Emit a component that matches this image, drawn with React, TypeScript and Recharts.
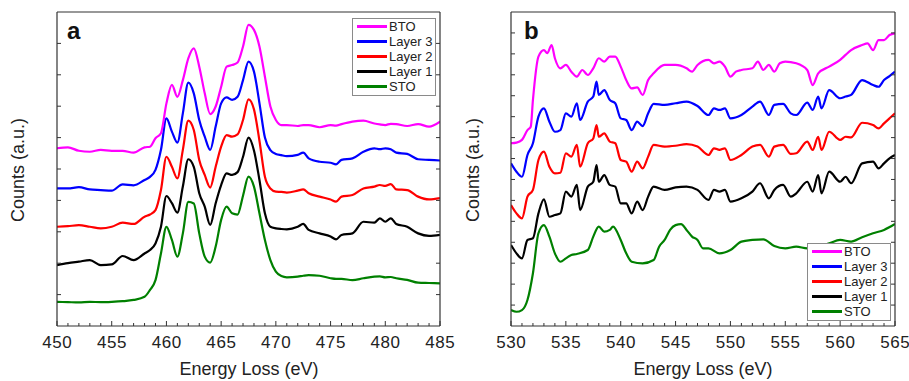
import { Line, LineChart, XAxis, YAxis } from "recharts";

const FONT = '"Liberation Sans", Arial, Helvetica, sans-serif';
const FRAME = "#333333";
const TEXT = "#222222";

const NAMES = ["BTO", "Layer 3", "Layer 2", "Layer 1", "STO"];
const COLORS = ["#ff00ff", "#0000ff", "#ff0000", "#000000", "#008000"];

// ---- panel a: Ti L2,3 edge ----
const A_ENERGY = [
  450, 451, 452, 453, 454, 455, 456, 457, 458,
  458.5, 459, 459.5, 460, 460.5, 461, 461.5, 462, 462.5, 463, 463.5, 464, 464.5, 465, 465.5, 466, 466.5, 467, 467.5, 468, 468.5, 469, 469.5, 470, 470.5, 471,
  472, 472.5, 473, 474, 475, 475.5, 476, 477, 478, 479, 479.5, 480, 480.5, 481, 482, 483, 484, 485,
];
const A_BTO = [
  5.66, 5.69, 5.58, 5.55, 5.61, 5.58, 5.58, 5.52, 5.69,
  5.71, 5.98, 6.14, 7.09, 7.68, 7.3, 7.83, 8.52, 8.84, 8.26, 7.41, 6.75, 6.99, 7.62, 8.26, 8.31, 8.39, 8.9, 9.59, 9.43, 8.9, 7.94, 6.99, 6.56, 6.4, 6.4,
  6.37, 6.4, 6.4, 6.33, 6.4, 6.38, 6.43, 6.51, 6.54, 6.45, 6.42, 6.4, 6.44, 6.43, 6.37, 6.43, 6.35, 6.51,
];
const A_LAYER3 = [
  4.38, 4.38, 4.42, 4.35, 4.33, 4.31, 4.51, 4.48, 4.65,
  4.75, 4.97, 5.61, 6.61, 6.19, 5.84, 6.77, 7.75, 7.41, 6.56, 6.03, 5.61, 6.35, 7.09, 7.28, 7.2, 7.3, 7.83, 8.42, 8.1, 7.1, 6.0, 5.6, 5.48, 5.44, 5.41,
  5.45, 5.52, 5.34, 5.23, 5.2, 5.15, 5.29, 5.34, 5.55, 5.66, 5.63, 5.66, 5.63, 5.52, 5.48, 5.31, 5.29, 5.27,
];
const A_LAYER2 = [
  3.16, 3.18, 3.21, 3.16, 3.11, 3.16, 3.29, 3.25, 3.48,
  3.55, 3.69, 4.33, 5.39, 5.07, 4.7, 5.61, 6.54, 6.24, 5.29, 4.81, 4.41, 5.07, 5.71, 6.08, 6.03, 6.1, 6.56, 7.22, 6.9, 5.9, 4.75, 4.38, 4.28, 4.27, 4.25,
  4.31, 4.35, 4.23, 4.12, 4.03, 3.96, 4.12, 4.17, 4.38, 4.44, 4.49, 4.46, 4.52, 4.35, 4.33, 4.12, 4.03, 4.07,
];
const A_LAYER1 = [
  1.94, 2.0, 2.05, 2.1, 1.94, 1.96, 2.23, 2.1, 2.31,
  2.42, 2.63, 3.16, 4.14, 3.91, 3.61, 4.44, 5.31, 5.07, 4.23, 3.8, 3.22, 3.91, 4.49, 4.86, 4.81, 4.9, 5.39, 6.0, 5.59, 4.65, 3.59, 3.16, 3.11, 3.09, 3.08,
  3.16, 3.25, 3.06, 2.95, 2.85, 2.76, 2.9, 2.95, 3.32, 3.29, 3.43, 3.32, 3.43, 3.25, 3.16, 2.95, 2.87, 2.9,
];
const A_STO = [
  0.77, 0.76, 0.75, 0.77, 0.76, 0.77, 0.79, 0.83, 0.93,
  1.15, 1.46, 2.31, 3.16, 2.74, 2.21, 2.95, 3.95, 3.9, 2.95, 2.21, 2.02, 2.53, 3.38, 3.8, 3.59, 3.55, 4.15, 4.76, 4.44, 3.59, 2.74, 2.1, 1.73, 1.59, 1.55,
  1.57, 1.6, 1.62, 1.6, 1.52, 1.5, 1.5, 1.46, 1.52, 1.57, 1.58, 1.55, 1.56, 1.52, 1.47, 1.38, 1.37, 1.36,
];

// ---- panel b: O K edge ----
const B_ENERGY = [
  530, 530.5, 531, 531.5, 532, 532.5, 533, 533.5, 534, 534.5, 535, 535.5, 536,
  536.3, 537, 537.5, 537.8, 538, 538.5, 539, 539.5, 540, 540.5, 541, 541.5, 542, 542.5, 543,
  544, 545, 546, 547, 548, 548.5, 549, 549.5, 550, 551, 552, 552.7, 553.5, 554, 554.8, 555.5, 556, 557, 557.5, 558, 558.3, 559, 560, 560.5, 561, 562, 563, 563.5, 564, 564.5, 565,
];
const B_LAYER3 = [
  7.77, 7.37, 7.13, 8.17, 8.73, 10.0, 10.4, 9.76, 9.28, 9.36, 10.16, 10.0, 10.64,
  9.84, 10.72, 10.96, 11.67, 11.04, 11.27, 10.8, 10.64, 9.92, 9.84, 9.36, 9.76, 9.55, 10.16, 10.61,
  10.56, 10.64, 10.72, 10.51, 10.08, 10.4, 10.32, 10.4, 9.92, 10.08, 10.48, 10.72, 10.08, 10.56, 10.61, 10.16, 10.08, 10.67, 10.32, 10.96, 10.4, 11.27, 10.88, 10.96, 11.04, 11.75, 11.51, 11.43, 11.75, 11.94, 12.15,
];
const B_LAYER2 = [
  5.78, 5.38, 5.14, 6.18, 6.5, 7.93, 8.33, 7.61, 7.29, 7.32, 8.25, 8.09, 8.65,
  7.61, 8.73, 8.96, 9.6, 9.04, 9.2, 8.81, 8.73, 7.93, 7.85, 7.37, 7.85, 7.53, 8.09, 8.65,
  8.57, 8.61, 8.69, 8.57, 8.17, 8.49, 8.41, 8.49, 7.93, 8.17, 8.57, 8.65, 8.09, 8.57, 8.65, 8.22, 8.25, 8.81, 8.41, 9.04, 8.41, 9.28, 8.89, 9.04, 9.01, 9.71, 9.6, 9.44, 9.68, 9.92, 10.16,
];
const B_LAYER1 = [
  3.87, 3.47, 3.23, 4.11, 4.19, 5.38, 6.05, 5.22, 5.3, 5.38, 6.42, 6.18, 6.74,
  5.54, 6.66, 6.89, 7.69, 6.89, 7.21, 6.74, 6.66, 5.86, 5.86, 5.38, 5.94, 5.54, 6.18, 6.66,
  6.5, 6.62, 6.66, 6.5, 6.02, 6.5, 6.42, 6.5, 5.94, 6.1, 6.42, 6.82, 6.1, 6.5, 6.74, 6.18, 6.34, 6.89, 6.42, 7.21, 6.34, 7.37, 6.89, 7.13, 6.82, 7.77, 7.85, 7.53, 7.77, 8.01, 8.17,
];
const B_BTO_ENERGY = [
  530, 530.5, 531, 531.5, 531.8, 532, 532.5, 533, 533.3, 533.7, 534, 534.5, 535, 535.5, 536, 536.5, 537, 537.5, 538, 538.5,
  539, 539.5, 540, 540.5, 541, 541.5, 542, 542.5, 543, 544, 545, 546, 546.5, 547, 548, 548.5, 549, 549.5, 550, 550.5,
  551, 552, 552.5, 553, 553.5, 554, 554.5, 555, 556, 557, 557.5, 558, 559, 560, 560.5, 561, 562, 562.5, 563, 563.5, 564, 564.5, 565,
];
const B_BTO = [
  8.73, 8.76, 8.89, 9.36, 9.52, 10.8, 12.87, 13.18, 13.03, 13.42, 12.79, 12.31, 12.47, 12.15, 11.91, 12.23, 11.99, 12.31, 12.79, 12.63,
  12.87, 12.87, 12.39, 11.75, 11.35, 11.4, 11.04, 11.75, 12.07, 12.47, 12.47, 12.31, 12.15, 12.47, 12.71, 12.55, 12.63, 12.39, 11.91, 12.15,
  12.23, 12.31, 12.63, 12.23, 12.47, 12.15, 12.55, 12.63, 12.55, 12.23, 11.51, 12.07, 12.39, 12.71, 12.95, 13.18, 13.42, 13.5, 13.18, 13.66, 13.66, 13.9, 13.98,
];
const B_STO_ENERGY = [
  530, 530.5, 531, 531.5, 532, 532.5, 533, 533.5, 534, 534.5, 535, 535.5, 536,
  537, 537.5, 538, 538.5, 539, 539.3, 540, 540.5, 541, 542, 543, 543.5, 544, 544.5, 545, 545.5, 546, 546.5, 547, 547.5,
  548, 549, 550, 551, 552, 553, 554, 555, 556, 557, 558, 559, 560, 561, 562, 563, 564, 565,
];
const B_STO = [
  0.76, 0.68, 0.76, 1.24, 2.52, 4.43, 4.82, 4.27, 3.47, 3.07, 3.23, 3.39, 3.44,
  3.63, 4.27, 4.75, 4.51, 4.59, 4.75, 4.11, 3.47, 3.07, 2.99, 3.15, 3.79, 4.11, 4.59, 4.82, 4.87, 4.59, 4.27, 4.11, 3.71,
  3.71, 3.47, 3.63, 4.03, 4.11, 4.14, 3.82, 3.71, 3.79, 3.71, 3.79, 3.95, 4.11, 4.03, 4.24, 4.43, 4.59, 4.87,
];

const A_X_LABELS = [450, 455, 460, 465, 470, 475, 480, 485];
const B_X_LABELS = [530, 535, 540, 545, 550, 555, 560, 565];
const A_Y_TICKS = [1, 2, 3, 4, 5, 6, 7, 8, 9];
const B_Y_TICKS = [1, 2, 3, 4, 5, 6, 7, 8, 9, 10, 11, 12, 13, 14];

const zip = (e: number[], v: number[]) => e.map((x, i) => ({ e: x, v: v[i] }));
const everyEv = (from: number, to: number) =>
  Array.from({ length: to - from + 1 }, (_, i) => from + i);

// tickSize 6 + tickMargin 2 -> tick props sit 8px off the axis line
const OFF = 8;
const MAJOR_LEN = 5;
const MINOR_LEN = 3;

function bottomTick(labels: number[]) {
  return (p: any) => {
    const ax = p.y - OFF;
    const major = labels.includes(p.payload.value);
    return (
      <g>
        <line x1={p.x} x2={p.x} y1={ax} y2={ax - (major ? MAJOR_LEN : MINOR_LEN)} stroke={FRAME} />
        {major ? (
          <text
            x={p.x + 0.3}
            y={ax + 22}
            textAnchor="middle"
            fontSize={17}
            fill={TEXT}
            style={{ fontFamily: FONT, letterSpacing: 0.6 }}
          >
            {p.payload.value}
          </text>
        ) : null}
      </g>
    );
  };
}

function topTick(labels: number[]) {
  return (p: any) => {
    const ax = p.y + OFF;
    const major = labels.includes(p.payload.value);
    return <line x1={p.x} x2={p.x} y1={ax} y2={ax + (major ? MAJOR_LEN : MINOR_LEN)} stroke={FRAME} />;
  };
}

const leftTick = (p: any) => {
  const ax = p.x + OFF;
  return <line x1={ax} x2={ax + 4} y1={p.y} y2={p.y} stroke={FRAME} />;
};

const rightTick = (p: any) => {
  const ax = p.x - OFF;
  return <line x1={ax} x2={ax - 4} y1={p.y} y2={p.y} stroke={FRAME} />;
};

interface PanelProps {
  left: number;
  width: number;
  marginLeft: number;
  marginRight: number;
  xDomain: [number, number];
  xLabels: number[];
  yMax: number;
  yTicks: number[];
  series: { e: number; v: number }[][];
}

function Panel({ left, width, marginLeft, marginRight, xDomain, xLabels, yMax, yTicks, series }: PanelProps) {
  const minor = everyEv(xDomain[0], xDomain[1]);
  const axisLine = { stroke: FRAME, strokeWidth: 1.2 };
  return (
    <div style={{ position: "absolute", left, top: 0 }}>
      <LineChart width={width} height={381} margin={{ top: 6, right: marginRight, bottom: 25, left: marginLeft }}>
        <XAxis
          dataKey="e"
          type="number"
          domain={xDomain}
          allowDataOverflow
          ticks={minor}
          interval={0}
          tickSize={6}
          tickMargin={2}
          tickLine={false}
          axisLine={axisLine}
          height={30}
          tick={bottomTick(xLabels)}
        />
        <XAxis
          xAxisId="top"
          orientation="top"
          type="number"
          domain={xDomain}
          allowDataOverflow
          ticks={minor}
          interval={0}
          tickSize={6}
          tickMargin={2}
          tickLine={false}
          axisLine={axisLine}
          height={6}
          tick={topTick(xLabels)}
        />
        <YAxis
          type="number"
          domain={[0, yMax]}
          allowDataOverflow
          ticks={yTicks}
          interval={0}
          tickSize={6}
          tickMargin={2}
          tickLine={false}
          axisLine={axisLine}
          width={6}
          tick={leftTick}
        />
        <YAxis
          yAxisId="right"
          orientation="right"
          type="number"
          domain={[0, yMax]}
          allowDataOverflow
          ticks={yTicks}
          interval={0}
          tickSize={6}
          tickMargin={2}
          tickLine={false}
          axisLine={axisLine}
          width={6}
          tick={rightTick}
        />
        {series
          .map((data, i) => ({ data, i }))
          .reverse()
          .map(({ data, i }) => (
            <Line
              key={NAMES[i]}
              data={data}
              dataKey="v"
              type="monotone"
              stroke={COLORS[i]}
              strokeWidth={2.2}
              dot={false}
              isAnimationActive={false}
            />
          ))}
      </LineChart>
    </div>
  );
}

function LegendBox({ left, top }: { left: number; top: number }) {
  return (
    <div
      style={{
        position: "absolute",
        left,
        top,
        width: 78,
        padding: "0 0 1px 4px",
        border: "1px solid #8a8a8a",
        background: "#fff",
        fontFamily: FONT,
        fontSize: 13,
        color: TEXT,
      }}
    >
      {NAMES.map((name, i) => (
        <div key={name} style={{ display: "flex", alignItems: "center", height: 15 }}>
          <span style={{ display: "inline-block", width: 30, height: 3, background: COLORS[i], marginRight: 2 }} />
          <span style={{ lineHeight: "15px" }}>{name}</span>
        </div>
      ))}
    </div>
  );
}

const titleStyle = {
  position: "absolute" as const,
  fontFamily: FONT,
  fontSize: 18,
  color: TEXT,
  whiteSpace: "nowrap" as const,
  lineHeight: "20px",
};

export default function App() {
  const aSeries = [A_BTO, A_LAYER3, A_LAYER2, A_LAYER1, A_STO].map((v) => zip(A_ENERGY, v));
  const bSeries = [
    zip(B_BTO_ENERGY, B_BTO),
    zip(B_ENERGY, B_LAYER3),
    zip(B_ENERGY, B_LAYER2),
    zip(B_ENERGY, B_LAYER1),
    zip(B_STO_ENERGY, B_STO),
  ];

  return (
    <div style={{ position: "absolute", left: 0, top: 0, width: 909, height: 381, background: "#fff", overflow: "hidden" }}>
      <Panel
        left={0}
        width={460}
        marginLeft={51}
        marginRight={14}
        xDomain={[450, 485]}
        xLabels={A_X_LABELS}
        yMax={10}
        yTicks={A_Y_TICKS}
        series={aSeries}
      />
      <Panel
        left={460}
        width={449}
        marginLeft={45}
        marginRight={8}
        xDomain={[530, 565]}
        xLabels={B_X_LABELS}
        yMax={15}
        yTicks={B_Y_TICKS}
        series={bSeries}
      />

      <div style={{ ...titleStyle, left: 18, top: 170, transform: "translate(-50%, -50%) rotate(-90deg)" }}>Counts (a.u.)</div>
      <div style={{ ...titleStyle, left: 473, top: 170, transform: "translate(-50%, -50%) rotate(-90deg)" }}>Counts (a.u.)</div>
      <div style={{ ...titleStyle, left: 249, top: 369, transform: "translate(-50%, -50%)" }}>Energy Loss (eV)</div>
      <div style={{ ...titleStyle, left: 703, top: 369, transform: "translate(-50%, -50%)" }}>Energy Loss (eV)</div>

      <div style={{ position: "absolute", left: 67, top: 19, fontFamily: FONT, fontWeight: 700, fontSize: 24, lineHeight: "24px", color: "#111" }}>a</div>
      <div style={{ position: "absolute", left: 524, top: 19, fontFamily: FONT, fontWeight: 700, fontSize: 24, lineHeight: "24px", color: "#111" }}>b</div>

      <LegendBox left={352} top={18} />
      <LegendBox left={807} top={243} />
    </div>
  );
}
